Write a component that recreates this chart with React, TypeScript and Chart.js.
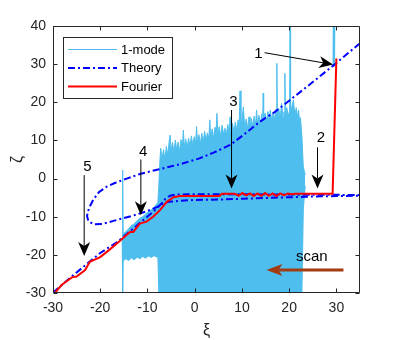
import React, { useEffect, useRef } from "react";
import { Chart, registerables } from "chart.js";

Chart.register(...registerables);

// ---------------- data ----------------
const xTicks = [-30, -20, -10, 0, 10, 20, 30];
const yTicks = [-30, -20, -10, 0, 10, 20, 30, 40];
const seriesNames = ["1-mode", "Theory", "Fourier"];

// 1-mode: envelope of the fast oscillation (upper / lower)
const oneModeX = [
  -15.35, -15.25, -15.15, -14.6, -14.0, -13.4, -12.8, -12.2, -11.6, -11.0, -10.4, -9.8, -9.2, -8.6, -8.0, -7.8, -7.6,
  -7.4, -7.2, -6.9, -6.6, -6.3, -6.0, -5.7, -5.4, -5.2, -5.0, -4.7, -4.4, -4.1, -3.8, -3.5, -3.2, -2.9, -2.6, -2.4,
  -2.2, -1.9, -1.6, -1.3, -1.0, -0.7, -0.4, -0.1, 0.2, 0.4, 0.6, 0.9, 1.2, 1.5, 1.8, 2.1, 2.4, 2.7, 3.0, 3.2, 3.4,
  3.7, 4.0, 4.3, 4.5, 4.7, 4.9, 5.2, 5.5, 5.8, 6.1, 6.4, 6.7, 7.0, 7.3, 7.5, 7.7, 8.0, 8.3, 8.6, 8.9, 9.2, 9.4, 9.6,
  9.8, 10.0, 10.3, 10.6, 10.9, 11.2, 11.5, 11.7, 12.0, 12.3, 12.6, 12.9, 13.1, 13.3, 13.6, 13.9, 14.2, 14.4, 14.5,
  14.6, 14.9, 15.2, 15.5, 15.8, 16.0, 16.3, 16.6, 16.9, 17.2, 17.3, 17.4, 17.5, 17.8, 18.1, 18.4, 18.7, 18.9, 19.0,
  19.1, 19.2, 19.5, 19.8, 20.1, 20.2, 20.3, 20.6, 20.9, 21.2, 21.5, 21.8, 22.0, 22.2, 22.4, 22.7, 23.0, 23.4,
];
const oneModeUpper = [
  -15.4, 2.2, -14.6, -13.9, -13.2, -12.3, -11.9, -11.0, -10.4, -10.0, -9.3, -8.7, -8.2, -7.5, -6.6, -6.2, -2.0,
  4.0, 8.0, 5.2, 7.6, 5.0, 8.4, 6.2, 9.8, 11.4, 7.2, 9.5, 6.8, 10.1, 7.5, 9.6, 7.0, 10.2, 8.4, 12.7,
  8.2, 10.4, 7.9, 10.6, 8.3, 11.2, 8.6, 11.0, 9.2, 13.6, 9.4, 11.5, 9.0, 11.9, 9.6, 12.4, 10.0, 12.0, 10.4, 15.4, 10.8,
  13.0, 10.6, 13.4, 11.2, 17.1, 11.4, 13.6, 11.0, 14.0, 11.6, 13.2, 11.4, 14.2, 12.0, 16.2, 12.2, 14.5, 12.0, 14.8, 12.6, 15.4, 12.8, 23.0,
  13.0, 15.0, 18.8, 13.4, 15.6, 13.2, 16.2, 12.7, 15.8, 13.6, 16.4, 14.0, 18.0, 14.2, 16.6, 14.0, 17.0, 14.6, 22.4,
  14.8, 17.2, 14.8, 17.6, 15.0, 18.0, 15.2, 17.4, 15.4, 18.2, 15.6, 30.2, 15.8, 18.4, 15.8, 19.7, 16.0, 17.5, 16.2,
  27.6, 16.4, 18.6, 16.4, 17.8, 40.0, 17.0, 19.0, 20.6, 16.6, 18.6, 16.0, 18.0, 15.0, 16.0, 11.0, 3.0, 1.0,
];
const oneModeLower = [
  -15.6, -30, -21.6, -21.0, -21.5, -20.8, -21.3, -20.6, -21.0, -20.4, -20.9, -20.3, -20.7, -20.2, -20.6, -20.4, -30,
  -30, -30, -30, -30, -30, -30, -30, -30, -30, -30, -30, -30, -30, -30, -30, -30, -30, -30, -30,
  -30, -30, -30, -30, -30, -30, -30, -30, -30, -30, -30, -30, -30, -30, -30, -30, -30, -30, -30, -30, -30,
  -30, -30, -30, -30, -30, -30, -30, -30, -30, -30, -30, -30, -30, -30, -30, -30, -30, -30, -30, -30, -30, -30, -30,
  -30, -30, -30, -30, -30, -30, -30, -30, -30, -30, -30, -30, -30, -30, -30, -30, -30, -30, -30,
  -30, -30, -30, -30, -30, -30, -30, -30, -30, -30, -30, -30, -30, -30, -30, -30, -30, -30, -30,
  -30, -30, -30, -30, -30, -30, -30, -30, -30, -30, -30, -30, -30, -30, -30, -30, -8.0, -2.0,
];
const oneModeTipX = [29.45, 29.5];
const oneModeTipY = [29.3, 40];

// Theory: two branches
const theoryLowerX = [-30, -25, -20, -16.5, -13, -11, -9, -8, -7, -6.2, -5.2, -4, 0, 10, 20, 35];
const theoryLowerY = [-29.9, -24.6, -19.5, -16.7, -13.1, -11, -8.9, -7.8, -6.5, -5.3, -4.5, -4.2, -4.1, -4.1, -4.2, -4.3];
const theoryLoopX = [
  35, 30, 25, 20.2, 17, 13.8, 10.5, 7.5, 4, 1, -3, -8, -11.6, -14.4, -16.8, -18.6, -20.3, -21.5, -22.4, -22.8,
  -22.5, -21.3, -19.5, -17.2, -13, -10.2, -8, -6.7, -5.5, -3, 0, 5, 10, 15, 20, 25, 30, 35,
];
const theoryLoopY = [
  35.5, 30.3, 25.3, 20.6, 17.5, 14.9, 11.6, 8.8, 6.8, 5.3, 3.8, 2.3, 1.2, 0, -1.1, -2.1, -3.6, -5.6, -7.8, -9.8,
  -11.2, -12, -11.9, -11.1, -9.7, -8.6, -7.5, -6.5, -6.1, -5.8, -5.6, -5.5, -5.3, -5.1, -4.9, -4.7, -4.6, -4.5,
];

// Fourier
const fourierX = [
  -29.6, -28.2, -26.0, -25.0, -23.2, -22.2, -20.0, -17.9, -15.8, -14.8, -13.7, -13.0, -11.6, -10.2, -8.8, -7.3, -5.9,
  -4.5, -3.1, 0, 5.2, 5.8, 8.5, 9.3, 10.1, 10.9, 11.7, 12.5, 13.3, 14.1, 14.9, 15.7, 16.5, 17.3, 18.1, 18.9, 19.7,
  20.5, 21.3, 25, 29.2, 30.0,
];
const fourierY = [
  -30, -27.9, -25.9, -25.7, -24, -21.8, -20.6, -18.5, -16.3, -15.2, -14, -14, -11.8, -11.3, -10, -8.2, -6.1,
  -4.9, -4.6, -4.6, -4.6, -4.0, -4.0, -4.5, -3.8, -4.4, -3.9, -4.6, -3.9, -4.5, -3.8, -4.5, -3.9, -4.6, -3.9, -4.4, -3.9,
  -4.1, -4.0, -4.0, -4.0, 31.5,
];

// annotations (data coordinates)
const markerLabels = ["1", "2", "3", "4", "5"];
const markerTextX = [13.5, 26.7, 8.2, -10.9, -22.7];
const markerTextY = [32.8, 10.6, 20.2, 7.0, 3.1];
const arrowFromX = [14.8, 26.0, 7.8, -11.4, -23.4];
const arrowFromY = [33.0, 8.2, 18.0, 5.0, 0.9];
const arrowToX = [29.3, 26.0, 7.8, -11.4, -23.4];
const arrowToY = [29.9, -2.6, -2.6, -9.6, -20.3];
const scanLabel = "scan";
const scanTextX = 24.8;
const scanTextY = -20.6;
const scanFromX = 31.5;
const scanToX = 15.2;
const scanY = -24.0;

// ---------------- styling ----------------
const FONT = '"Liberation Sans", Arial, Helvetica, sans-serif';
const AXIS = "#262626";
const C_ONE = "#4DBEEE";
const C_TH = "#0000FF";
const C_FO = "#FF0000";
const C_SCAN = "#A33C12";
const DASHDOT = [7, 3, 2, 3];

function pts(xs: number[], ys: number[]) {
  return xs.map((x, i) => ({ x, y: ys[i] }));
}

function drawArrow(
  ctx: CanvasRenderingContext2D,
  x1: number, y1: number, x2: number, y2: number,
  len: number, halfW: number, notch: number, lw: number, color: string
) {
  const ang = Math.atan2(y2 - y1, x2 - x1);
  const ux = Math.cos(ang), uy = Math.sin(ang);
  const nx = -uy, ny = ux;
  const bx = x2 - ux * len, by = y2 - uy * len;
  const ix = x2 - ux * (len - notch), iy = y2 - uy * (len - notch);
  ctx.save();
  ctx.strokeStyle = color;
  ctx.lineWidth = lw;
  ctx.setLineDash([]);
  ctx.beginPath();
  ctx.moveTo(x1, y1);
  ctx.lineTo(ix, iy);
  ctx.stroke();
  ctx.fillStyle = color;
  ctx.beginPath();
  ctx.moveTo(x2, y2);
  ctx.lineTo(bx + nx * halfW, by + ny * halfW);
  ctx.lineTo(ix, iy);
  ctx.lineTo(bx - nx * halfW, by - ny * halfW);
  ctx.closePath();
  ctx.fill();
  ctx.restore();
}

const decorPlugin = {
  id: "decor",
  afterDatasetsDraw(chart: any) {
    const ctx: CanvasRenderingContext2D = chart.ctx;
    const xs = chart.scales.x;
    const ys = chart.scales.y;
    const { left, right, top, bottom } = chart.chartArea;
    const L = Math.round(left) + 0.5, R = Math.round(right) - 0.5;
    const T = Math.round(top) + 0.5, B = Math.round(bottom) - 0.5;
    ctx.save();
    // box
    ctx.strokeStyle = AXIS;
    ctx.lineWidth = 1;
    ctx.setLineDash([]);
    ctx.beginPath();
    ctx.rect(L, T, R - L, B - T);
    ctx.stroke();
    // ticks
    const tl = 4;
    ctx.beginPath();
    xTicks.forEach((v) => {
      const p = Math.round(xs.getPixelForValue(v)) + 0.5;
      ctx.moveTo(p, B); ctx.lineTo(p, B - tl);
      ctx.moveTo(p, T); ctx.lineTo(p, T + tl);
    });
    yTicks.forEach((v) => {
      const p = Math.round(ys.getPixelForValue(v)) + 0.5;
      ctx.moveTo(L, p); ctx.lineTo(L + tl, p);
      ctx.moveTo(R, p); ctx.lineTo(R - tl, p);
    });
    ctx.stroke();

    // numbered arrows
    ctx.fillStyle = "#000";
    ctx.font = `15px ${FONT}`;
    ctx.textAlign = "center";
    ctx.textBaseline = "middle";
    markerLabels.forEach((lab, i) => {
      ctx.fillText(lab, xs.getPixelForValue(markerTextX[i]), ys.getPixelForValue(markerTextY[i]));
      drawArrow(
        ctx,
        xs.getPixelForValue(arrowFromX[i]), ys.getPixelForValue(arrowFromY[i]),
        xs.getPixelForValue(arrowToX[i]), ys.getPixelForValue(arrowToY[i]),
        14, 6, 4, 1, "#000"
      );
    });
    // scan arrow
    ctx.fillStyle = "#000";
    ctx.fillText(scanLabel, xs.getPixelForValue(scanTextX), ys.getPixelForValue(scanTextY));
    drawArrow(
      ctx,
      xs.getPixelForValue(scanFromX), ys.getPixelForValue(scanY),
      xs.getPixelForValue(scanToX), ys.getPixelForValue(scanY),
      16, 6, 4, 3, C_SCAN
    );

    // axis titles
    ctx.fillStyle = AXIS;
    ctx.font = `16px ${FONT}`;
    ctx.textAlign = "center";
    ctx.textBaseline = "middle";
    ctx.fillText("ξ", (left + right) / 2, 331);
    ctx.save();
    ctx.translate(18, (top + bottom) / 2);
    ctx.rotate(-Math.PI / 2);
    ctx.fillText("ζ", 0, 0);
    ctx.restore();

    // legend
    const bx = 63.5, by = 37.5, bw = 109, bh = 61;
    ctx.fillStyle = "#fff";
    ctx.fillRect(bx, by, bw, bh);
    ctx.strokeStyle = AXIS;
    ctx.lineWidth = 1;
    ctx.strokeRect(bx, by, bw, bh);
    const rows = [49.5, 68, 86.5];
    const styles = [
      { c: C_ONE, w: 1, d: [] as number[] },
      { c: C_TH, w: 2, d: DASHDOT },
      { c: C_FO, w: 2, d: [] as number[] },
    ];
    rows.forEach((ry, i) => {
      ctx.strokeStyle = styles[i].c;
      ctx.lineWidth = styles[i].w;
      ctx.setLineDash(styles[i].d);
      ctx.beginPath();
      ctx.moveTo(68, ry);
      ctx.lineTo(117, ry);
      ctx.stroke();
      ctx.setLineDash([]);
      ctx.fillStyle = "#000";
      ctx.font = `13px ${FONT}`;
      ctx.textAlign = "left";
      ctx.textBaseline = "middle";
      ctx.fillText(seriesNames[i], 121, ry + 0.5);
    });
    ctx.restore();
  },
};

export default function App() {
  const ref = useRef<HTMLCanvasElement | null>(null);
  useEffect(() => {
    document.body.style.margin = "0";
    if (!ref.current) return;
    const chart = new Chart(ref.current, {
      type: "line",
      data: {
        datasets: [
          {
            label: "Fourier",
            data: pts(fourierX, fourierY),
            borderColor: C_FO,
            borderWidth: 2,
            fill: false,
            order: 1,
          },
          {
            label: "Theory",
            data: pts(theoryLowerX, theoryLowerY),
            borderColor: C_TH,
            borderWidth: 2,
            borderDash: DASHDOT,
            fill: false,
            order: 2,
          },
          {
            label: "Theory loop",
            data: pts(theoryLoopX, theoryLoopY),
            borderColor: C_TH,
            borderWidth: 2,
            borderDash: DASHDOT,
            fill: false,
            order: 2,
          },
          {
            label: "1-mode tip",
            data: pts(oneModeTipX, oneModeTipY),
            borderColor: C_ONE,
            borderWidth: 2.5,
            fill: false,
            order: 3,
          },
          {
            label: "1-mode",
            data: pts(oneModeX, oneModeUpper),
            borderColor: C_ONE,
            backgroundColor: C_ONE,
            borderWidth: 1,
            fill: "+1",
            order: 4,
          },
          {
            label: "1-mode lower",
            data: pts(oneModeX, oneModeLower),
            borderColor: C_ONE,
            borderWidth: 1,
            fill: false,
            order: 4,
          },
        ] as any,
      },
      options: {
        animation: false,
        responsive: false,
        maintainAspectRatio: false,
        layout: { padding: { top: 26, right: 39, left: 0, bottom: 0 } },
        elements: { point: { radius: 0 }, line: { tension: 0 } },
        plugins: { legend: { display: false }, tooltip: { enabled: false } },
        scales: {
          x: {
            type: "linear",
            min: -30,
            max: 35,
            grid: { display: false, drawTicks: false },
            border: { display: false },
            afterBuildTicks: (s: any) => {
              s.ticks = xTicks.map((v) => ({ value: v }));
            },
            afterFit: (s: any) => {
              s.height = 47;
            },
            ticks: {
              font: { family: FONT, size: 14 },
              color: AXIS,
              padding: 7,
              maxRotation: 0,
              autoSkip: false,
            },
          },
          y: {
            type: "linear",
            min: -30,
            max: 40,
            grid: { display: false, drawTicks: false },
            border: { display: false },
            afterBuildTicks: (s: any) => {
              s.ticks = yTicks.map((v) => ({ value: v }));
            },
            afterFit: (s: any) => {
              s.width = 53;
            },
            ticks: {
              font: { family: FONT, size: 14 },
              color: AXIS,
              padding: 7,
              autoSkip: false,
            },
          },
        },
      } as any,
      plugins: [decorPlugin],
    });
    return () => chart.destroy();
  }, []);
  return (
    <div style={{ position: "absolute", left: 0, top: 0, width: 399, height: 340 }}>
      <canvas ref={ref} width={399} height={340} style={{ display: "block", width: 399, height: 340 }} />
    </div>
  );
}
